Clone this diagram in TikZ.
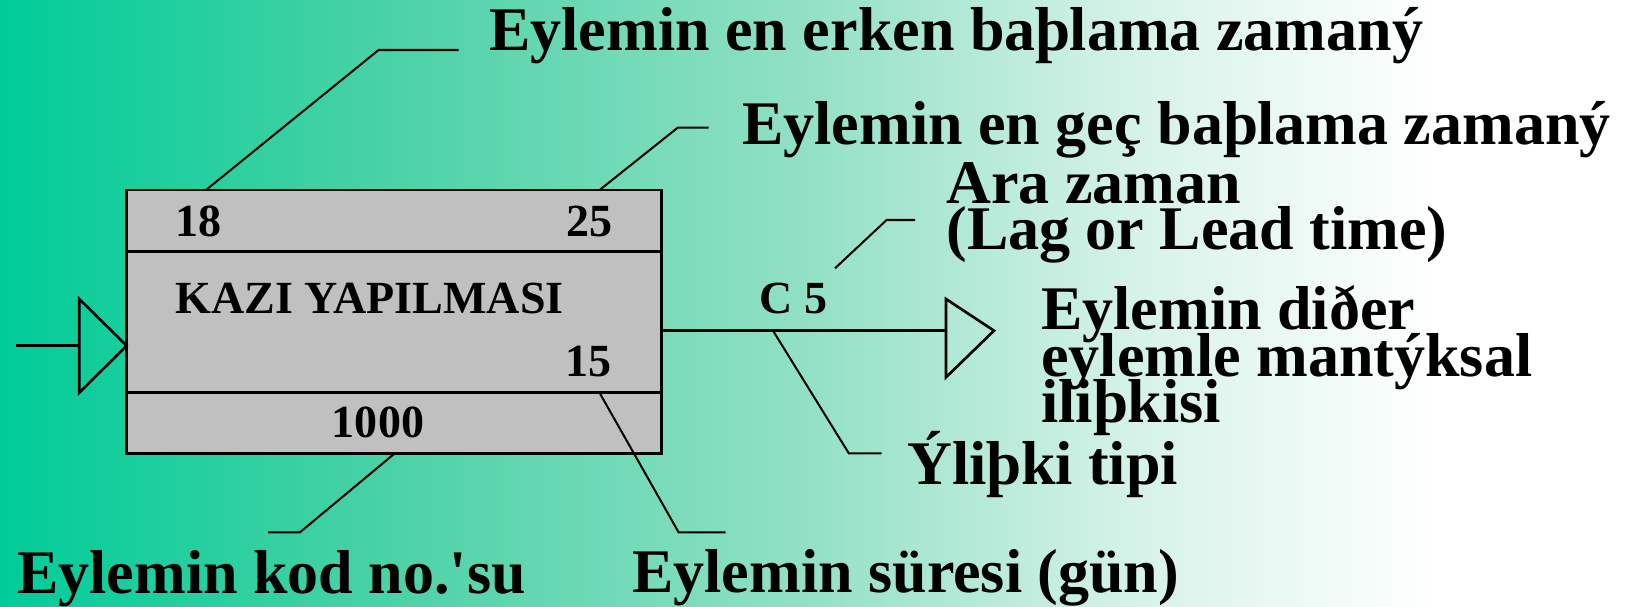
\documentclass[tikz,border=0pt]{standalone}
\usepackage{fontspec}
\setmainfont{Liberation Serif}
\usetikzlibrary{positioning}
\setlength{\lineskiplimit}{-100pt}
\setlength{\lineskip}{0pt}
\definecolor{bgA}{RGB}{0,204,153}
\definecolor{bgB}{RGB}{75,210,166}
\definecolor{bgC}{RGB}{145,224,198}
\definecolor{bgD}{RGB}{215,243,233}
\definecolor{boxgray}{RGB}{192,192,192}
\pgfdeclarehorizontalshading{bgshade}{100bp}{color(0bp)=(bgA); color(25bp)=(bgA); color(37bp)=(bgB); color(49.5bp)=(bgC); color(60bp)=(bgD); color(69bp)=(white); color(100bp)=(white)}
\tikzset{
  big/.style={font=\bfseries\fontsize{35.3}{26.7}\selectfont, inner sep=0pt, anchor=base west, align=left},
  small/.style={font=\bfseries\fontsize{26.2}{30}\selectfont, inner sep=0pt},
  row/.style={draw, fill=boxgray, line width=1.7pt, minimum width=10.71cm, inner sep=0pt, outer sep=0pt},
  lead/.style={line width=1.15pt},
  link/.style={line width=1.5pt, line join=miter},
}

\begin{document}
\begin{tikzpicture}[x=0.02cm, y=-0.02cm]
\useasboundingbox (0,0) rectangle (1633,607);
\shade[shading=bgshade] (0,0) rectangle (1633,607);

% activity box
\node[row, minimum height=1.24cm] (top) at (394.25,221) {};
\node[row, minimum height=2.814cm, below=0pt of top] (mid) {};
\node[row, minimum height=1.226cm, below=0pt of mid] (bot) {};

\node[small, anchor=base west] (es) at (175,237) {18};
\node[small, anchor=base east] (ls) at (613,237) {25};
\node[small, anchor=base west] (name) at (175,314) {KAZI YAPILMASI};
\node[small, anchor=base east] (dur) at (612,377) {15};
\node[small, anchor=base] (code) at (378,438) {1000};
\node[small, anchor=base west] (lag) at (759,314) {C 5};

% labels (multi-line ones sit on their last baseline)
\node[big] (esl) at (489,51) {Eylemin en erken baþlama zamaný};
\node[big] (lsl) at (742,145) {Eylemin en geç baþlama zamaný};
\node[big] (lagl) at (946,250) {Ara zaman\\(Lag or Lead time)};
\node[big] (rell) at (1041,423) {Eylemin diðer\\eylemle mantýksal\\iliþkisi};
\node[big] (typl) at (907,485) {Ýliþki tipi};
\node[big] (codel) at (17,594) {Eylemin kod no.\textquotesingle su};
\node[big] (durl) at (632,593) {Eylemin süresi (gün)};

% points on the box and leader bends
\coordinate (in) at (15.7,345.7);
\coordinate (t1) at (79.3,345.7);
\coordinate (out) at (662,330.7);
\coordinate (t2) at (946,330.7);
\coordinate (es a) at (206,190);
\coordinate (es b) at (378.6,50);
\coordinate (es c) at (458.5,50);
\coordinate (ls a) at (599.6,190);
\coordinate (ls b) at (677.7,127.7);
\coordinate (ls c) at (708.7,127.7);
\coordinate (lag a) at (835,268.3);
\coordinate (lag b) at (886.6,220);
\coordinate (lag c) at (915,220);
\coordinate (typ a) at (773,330.7);
\coordinate (typ b) at (848.8,453.3);
\coordinate (typ c) at (881.5,453.3);
\coordinate (code a) at (394,454);
\coordinate (code b) at (300,532.3);
\coordinate (code c) at (268,532.3);
\coordinate (dur a) at (599.5,392.7);
\coordinate (dur b) at (678.6,532.3);
\coordinate (dur c) at (725.5,532.3);

\draw[link] (in) to (t1);
\draw[link] (t1) -- (79.3,299) -- (mid.west |- t1) -- (79.3,392.7) -- cycle;
\draw[link] (out) to (t2);
\draw[link] (t2) -- (946,299) -- (994,330.7) -- (946,377.3) -- cycle;

\draw[lead] (es a) -- (es b) -- (es c);
\draw[lead] (ls a) -- (ls b) -- (ls c);
\draw[lead] (lag a) -- (lag b) -- (lag c);
\draw[lead] (typ a) -- (typ b) -- (typ c);
\draw[lead] (code a) -- (code b) -- (code c);
\draw[lead] (dur a) -- (dur b) -- (dur c);
\end{tikzpicture}
\end{document}
